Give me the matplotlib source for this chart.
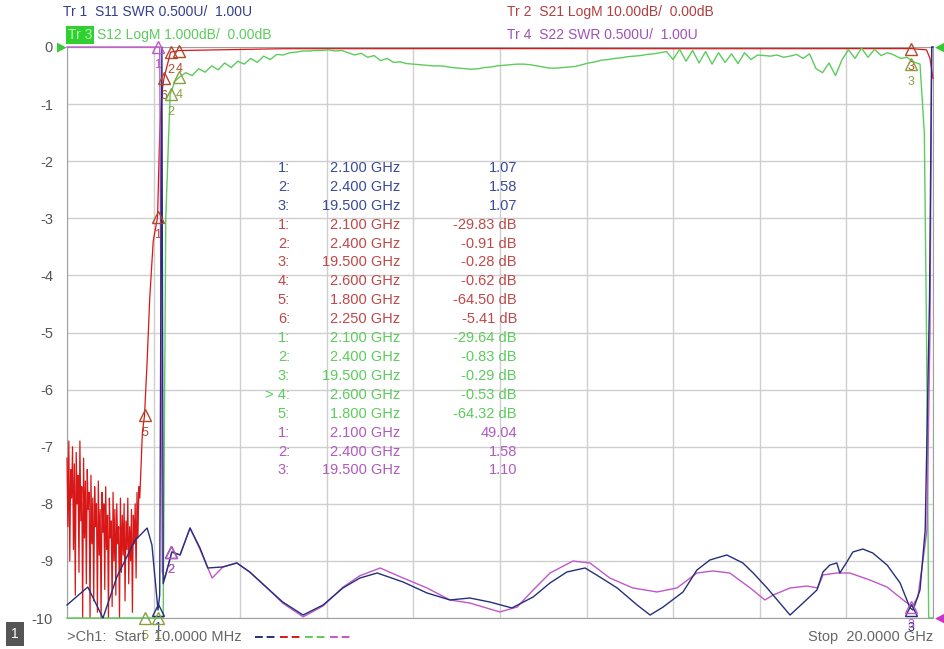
import numpy as np
import matplotlib
matplotlib.use("Agg")
import matplotlib.pyplot as plt
from matplotlib.lines import Line2D

plt.rcParams['font.family'] = ['Liberation Sans', 'DejaVu Sans']

# sweep limits (GHz)
f_start, f_stop = 0.01, 20.0

# ---- Tr1 S11 SWR (0.5 U/div, ref 1.00 U at bottom)
s11_f = [0.01, 0.49, 0.84, 1.16, 1.58, 1.86, 1.97, 2.11, 2.15, 2.20, 2.23, 2.43, 2.62, 2.85,
         3.08, 3.26, 3.61, 3.93, 4.23, 4.63, 4.99, 5.46, 5.92, 6.38, 6.77, 7.17, 7.77, 8.32,
         8.85, 9.31, 9.77, 10.28, 10.77, 11.16, 11.55, 11.97, 12.31, 12.71, 13.17, 13.47,
         13.77, 14.23, 14.55, 14.85, 15.24, 15.61, 15.85, 16.17, 16.70, 17.00, 17.32, 17.46,
         17.62, 17.78, 17.85, 18.01, 18.15, 18.38, 18.61, 18.94, 19.24, 19.47, 19.54, 19.70,
         19.82, 19.92, 19.97, 20.0]
s11_swr = [1.114, 1.271, 0.98, 1.359, 1.68, 1.788, 1.64, 1.07, 1.20, 6.5, 1.30, 1.578, 1.552,
           1.788, 1.613, 1.438, 1.447, 1.482, 1.403, 1.263, 1.140, 1.026, 1.114, 1.263, 1.350,
           1.394, 1.315, 1.219, 1.158, 1.175, 1.140, 1.088, 1.184, 1.307, 1.403, 1.438, 1.359,
           1.263, 1.114, 1.026, 1.096, 1.228, 1.420, 1.508, 1.552, 1.482, 1.394, 1.263, 1.026,
           1.131, 1.245, 1.403, 1.464, 1.482, 1.394, 1.490, 1.578, 1.604, 1.569, 1.464, 1.307,
           1.088, 1.070, 1.245, 1.771, 3.8, 6.5, 6.5]

# ---- Tr4 S22 SWR (0.5 U/div, ref 1.00 U at bottom)
s22_f = [0.01, 1.0, 2.10, 2.15, 2.18, 2.21, 2.27, 2.43, 2.62, 2.85, 3.08, 3.36, 3.61, 3.93,
         4.23, 4.63, 4.99, 5.46, 5.92, 6.38, 6.77, 7.24, 7.77, 8.32, 8.85, 9.31, 10.00, 10.40,
         10.77, 11.16, 11.69, 12.08, 12.54, 13.07, 13.63, 14.09, 14.55, 14.92, 15.31, 15.78,
         16.12, 16.31, 16.70, 17.09, 17.34, 17.46, 17.78, 18.08, 18.54, 18.94, 19.31, 19.52,
         19.65, 19.77, 19.86, 19.93, 19.97, 20.0]
s22_swr = [49.0, 49.0, 49.04, 30.0, 3.5, 1.40, 1.35, 1.578, 1.552, 1.788, 1.60, 1.350, 1.447,
           1.482, 1.40, 1.263, 1.13, 1.01, 1.105, 1.27, 1.37, 1.438, 1.35, 1.263, 1.158, 1.131,
           1.053, 1.096, 1.245, 1.394, 1.499, 1.482, 1.350, 1.263, 1.228, 1.263, 1.394, 1.412,
           1.394, 1.263, 1.158, 1.201, 1.263, 1.280, 1.263, 1.377, 1.394, 1.394, 1.333, 1.271,
           1.158, 1.10, 1.184, 1.508, 1.771, 3.5, 6.5, 6.5]

# ---- Tr2 S21 LogM (10 dB/div, ref 0 dB at top)
s21_noise = [-72, -84, -69, -90, -74, -79, -70, -88, -73, -96, -71, -80, -75, -92, -69, -83,
             -77, -100, -72, -86, -76, -94, -74, -81, -78, -100, -75, -87, -79, -97, -77, -84,
             -80, -99, -76, -89, -81, -100, -78, -85, -80, -95, -77, -88, -82, -100, -79, -86,
             -83, -98, -78, -90, -81, -96, -80, -87, -84, -100, -79, -92, -82, -89, -80, -97,
             -83, -88, -79, -94, -84, -90, -81, -99, -82, -87, -80, -93, -78, -86, -77, -79]
s21_f = [1.75, 1.80, 1.86, 1.92, 2.00, 2.10, 2.15, 2.20, 2.25, 2.40, 2.60, 5.0, 10.0, 15.0,
         19.50, 19.85, 19.93, 20.0]
s21_db = [-67.5, -64.5, -55, -44, -34, -29.83, -15, -8, -5.41, -0.91, -0.62, -0.30, -0.28,
          -0.30, -0.28, -0.5, -2.0, -5.5]

# ---- Tr3 S12 LogM (1 dB/div, ref 0 dB at top)
s12_low_f = [0.01, 1.80, 2.10, 2.23, 2.29, 2.39, 2.50]
s12_low_db = [-60.0, -64.32, -29.64, -12.0, -3.0, -0.83, -0.60]
s12_mid = [-0.53, -0.45, -0.50, -0.38, -0.44, -0.33, -0.40, -0.28, -0.36, -0.25,
           -0.30, -0.20, -0.27, -0.16, -0.22, -0.13, -0.14, -0.10, -0.09, -0.07,
           -0.07, -0.06, -0.06, -0.05, -0.07, -0.06, -0.10, -0.14, -0.11, -0.18,
           -0.15, -0.24, -0.20, -0.27, -0.26, -0.29, -0.30, -0.31, -0.32, -0.33,
           -0.33, -0.34, -0.36, -0.37, -0.38, -0.39, -0.38, -0.36, -0.35, -0.33,
           -0.32, -0.31, -0.30, -0.30, -0.31, -0.33, -0.35, -0.37, -0.37, -0.36,
           -0.35, -0.34, -0.31, -0.28, -0.26, -0.23, -0.22, -0.20, -0.19, -0.17,
           -0.16, -0.15, -0.13, -0.12, -0.10, -0.08, -0.22, -0.04, -0.25, -0.06,
           -0.28, -0.08, -0.30, -0.10, -0.27, -0.12, -0.29, -0.10, -0.22, -0.14,
           -0.15, -0.16, -0.14, -0.18, -0.16, -0.13, -0.20, -0.12, -0.38, -0.45,
           -0.28, -0.50, -0.22, -0.05, -0.20, -0.02, -0.18, -0.04, -0.15, -0.10,
           -0.14, -0.20, -0.18, -0.26, -0.30]
s12_high_f = [19.80, 19.85, 19.90, 20.0]
s12_high_db = [-1.5, -5.0, -12.0, -20.0]

# ---- markers
m11_f, m11_v = [2.1, 2.4, 19.5], [1.07, 1.58, 1.07]
m21_f, m21_v = [2.1, 2.4, 19.5, 2.6, 1.8, 2.25], [-29.83, -0.91, -0.28, -0.62, -64.50, -5.41]
m12_f, m12_v = [2.1, 2.4, 19.5, 2.6, 1.8], [-29.64, -0.83, -0.29, -0.53, -64.32]
m22_f, m22_v = [2.1, 2.4, 19.5], [49.04, 1.58, 1.10]

c_s11 = '#25307a'
c_s21 = '#d81818'
c_s12 = '#5ccc5c'
c_s22 = '#c057c8'


def swr_div(v):
    return np.clip(-10 + (np.asarray(v, float) - 1.0) / 0.5, -10, 0)


def db_div(v, per_div):
    return np.clip(np.asarray(v, float) / per_div, -10, 0)


fig = plt.figure(figsize=(9.45, 6.49), dpi=100)
ax = fig.add_axes([67 / 945, 1 - 618 / 649, 866 / 945, 571 / 649])

ax.set_xlim(f_start, f_stop)
ax.set_ylim(-10, 0)
ax.set_xticks(np.linspace(f_start, f_stop, 11))
ax.set_xticklabels([])
ax.set_yticks(np.arange(-10, 1, 1))
ax.set_yticklabels([str(v) for v in range(-10, 1)], color='#555555', fontsize=10.5)
ax.tick_params(length=0, pad=10)
ax.grid(True, color='#cfcfcf', lw=1.0)
for s in ax.spines.values():
    s.set_color('#a0a0a0')

# S21 trace
f_noise = np.linspace(f_start, 1.69, len(s21_noise))
ax.plot(np.r_[f_noise, s21_f], db_div(np.r_[s21_noise, s21_db], 10), color=c_s21, lw=0.9,
        clip_on=False, zorder=3)

# S12 trace
f_mid = np.linspace(2.6, 19.7, len(s12_mid))
ax.plot(np.r_[s12_low_f, f_mid, s12_high_f], db_div(np.r_[s12_low_db, s12_mid, s12_high_db], 1),
        color=c_s12, lw=1.0, clip_on=False, zorder=3)

# SWR traces
ax.plot(s22_f, swr_div(s22_swr), color=c_s22, lw=1.0, clip_on=False, zorder=4)
ax.plot(s11_f, swr_div(s11_swr), color=c_s11, lw=1.0, clip_on=False, zorder=4)

# marker symbols
marker_sets = [
    (m11_f, swr_div(m11_v), c_s11),
    (m21_f, db_div(m21_v, 10), '#b04a2a'),
    (m12_f, db_div(m12_v, 1), '#8aa040'),
    (m22_f, swr_div(m22_v), c_s22),
]
for mf, mv, col in marker_sets:
    for k, (x, y) in enumerate(zip(mf, mv)):
        ax.plot(x, y, marker='^', ms=9, mfc='none', mec=col, mew=1.0, clip_on=False, zorder=5)
        ax.annotate(str(k + 1), (x, y), xytext=(0, -13), textcoords='offset points',
                    ha='center', va='center', color=col, fontsize=9, annotation_clip=False)

# marker table
rows = []
for k, (f, v) in enumerate(zip(m11_f, m11_v)):
    rows.append((f"{k + 1}:", f, f"{v:.2f}", '#3a4a9a'))
for k, (f, v) in enumerate(zip(m21_f, m21_v)):
    rows.append((f"{k + 1}:", f, f"{v:.2f} dB", '#c04848'))
for k, (f, v) in enumerate(zip(m12_f, m12_v)):
    rows.append((("> " if k == 3 else "") + f"{k + 1}:", f, f"{v:.2f} dB", '#5ccc5c'))
for k, (f, v) in enumerate(zip(m22_f, m22_v)):
    rows.append((f"{k + 1}:", f, f"{v:.2f}", '#b05ac0'))

for i, (idx, f, val, col) in enumerate(rows):
    y = 1 - (168 + i * 18.9) / 649
    fig.text(290 / 945, y, idx, ha='right', va='center', color=col, fontsize=10.5)
    fig.text(400 / 945, y, f"{f:.3f} GHz", ha='right', va='center', color=col, fontsize=10.5)
    fig.text(517 / 945, y, val, ha='right', va='center', color=col, fontsize=10.5)

# header
fig.text(63 / 945, 1 - 12 / 649, "Tr 1  S11 SWR 0.500U/  1.00U", color='#34408a', fontsize=10,
         va='center')
fig.text(68 / 945, 1 - 35 / 649, "Tr 3", color='#b8ffb8', fontsize=10, va='center',
         bbox=dict(boxstyle='square,pad=0.12', fc='#2fd02f', ec='none'))
fig.text(97 / 945, 1 - 35 / 649, "S12 LogM 1.000dB/  0.00dB", color='#5ccc5c', fontsize=10,
         va='center')
fig.text(507 / 945, 1 - 12 / 649, "Tr 2  S21 LogM 10.00dB/  0.00dB", color='#b04040',
         fontsize=10, va='center')
fig.text(507 / 945, 1 - 35 / 649, "Tr 4  S22 SWR 0.500U/  1.00U", color='#a050b8', fontsize=10,
         va='center')

# reference position arrows
fig.text(62 / 945, 1 - 47 / 649, "\u25B6", color='#33cc33', fontsize=9, ha='center', va='center')
fig.text(940 / 945, 1 - 47 / 649, "\u25C0", color='#33cc33', fontsize=9, ha='center', va='center')
fig.text(940 / 945, 1 - 618 / 649, "\u25C0", color='#cc33cc', fontsize=9, ha='center', va='center')

# footer
fig.text(15 / 945, 1 - 634 / 649, "1", color='white', fontsize=10, ha='center', va='center',
         bbox=dict(boxstyle='square,pad=0.35', fc='#555555', ec='none'))
fig.text(67 / 945, 1 - 637 / 649, ">Ch1:  Start  10.0000 MHz", color='#666666', fontsize=10.5,
         va='center')
fig.text(933 / 945, 1 - 637 / 649, "Stop  20.0000 GHz", color='#666666', fontsize=10.5,
         va='center', ha='right')
for j, col in enumerate([c_s11, c_s21, c_s12, c_s22]):
    x0 = 255 + j * 25
    fig.add_artist(Line2D([x0 / 945, (x0 + 20) / 945], [1 - 637 / 649] * 2, color=col, lw=1.4,
                          ls=(0, (4, 2))))

fig.savefig('out.png', dpi=100, facecolor='white')
